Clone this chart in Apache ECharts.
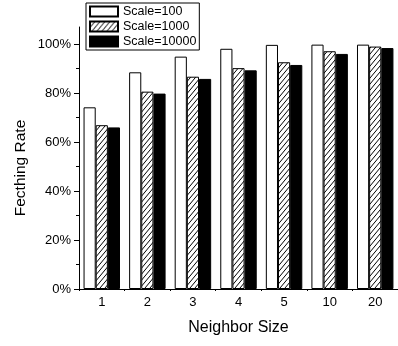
<!DOCTYPE html>
<html><head><meta charset="utf-8">
<script src="https://cdn.jsdelivr.net/npm/echarts@6/dist/echarts.min.js"></script>
<style>html,body{margin:0;padding:0;background:#fff}#c{width:398px;height:346px}</style>
</head><body><div id="c"></div>
<script>
const categories = ['1', '2', '3', '4', '5', '10', '20'];
const scale100 = [74.2, 88.5, 94.9, 98.1, 99.7, 99.8, 99.8];
const scale1000 = [66.9, 80.6, 86.7, 90.2, 92.6, 97.1, 99.0];
const scale10000 = [66.0, 79.8, 85.8, 89.3, 91.5, 96.0, 98.4];
const seriesNames = ['Scale=100', 'Scale=1000', 'Scale=10000'];
const majorTicks = [0, 20, 40, 60, 80, 100];
const minorTicks = [10, 30, 50, 70, 90];
const yTitle = 'Fecthing Rate';
const xTitle = 'Neighbor Size';

function hatch() {
  const w = 5, h = 6;
  const c = document.createElement('canvas');
  c.width = w; c.height = h;
  const g = c.getContext('2d');
  g.fillStyle = '#fff'; g.fillRect(0, 0, w, h);
  g.strokeStyle = '#000'; g.lineWidth = 1;
  g.beginPath();
  for (let k = -1; k <= 1; k++) { g.moveTo(k * w, h); g.lineTo((k + 1) * w, 0); }
  g.stroke();
  return c;
}
const FONT = 'Liberation Sans, Arial, sans-serif';
const chart = echarts.init(document.getElementById('c'), null, {renderer: 'canvas'});
const barBase = {type: 'bar', barGap: '0%', barCategoryGap: '20%', xAxisIndex: 0, yAxisIndex: 0};
chart.setOption({
  animation: false,
  textStyle: {fontFamily: FONT, color: '#000'},
  grid: {left: 79, top: 27, width: 327, bottom: 57, containLabel: false},
  legend: {
    orient: 'vertical', left: 86, top: 3,
    itemWidth: 28, itemHeight: 10, itemGap: 2,
    padding: [2, 3, 2, 3],
    borderColor: '#000', borderWidth: 1,
    icon: 'rect',
    textStyle: {fontSize: 12.5, color: '#000', fontFamily: FONT},
    data: seriesNames
  },
  graphic: [{
    type: 'text', x: 21, y: 168, rotation: Math.PI / 2,
    style: {text: yTitle, fontSize: 15.5, fontFamily: FONT, fill: '#000', align: 'center', verticalAlign: 'middle'}
  }],
  xAxis: [{
    type: 'category', data: categories, position: 'bottom',
    axisLine: {lineStyle: {color: '#000', width: 1}},
    axisTick: {alignWithLabel: true, length: 4, lineStyle: {color: '#000'}},
    axisLabel: {fontSize: 13, color: '#000', margin: 7, fontFamily: FONT},
    name: xTitle, nameLocation: 'middle', nameGap: 31,
    nameTextStyle: {fontSize: 16, color: '#000', fontFamily: FONT}
  }, {
    type: 'category', data: categories, position: 'bottom',
    axisLine: {show: false},
    axisTick: {show: true, length: 2, lineStyle: {color: '#000'}},
    axisLabel: {show: false}
  }],
  yAxis: [{
    type: 'value', min: 0, max: 107,
    axisLine: {show: true, lineStyle: {color: '#000', width: 1}},
    axisTick: {show: true, length: 5, customValues: majorTicks, lineStyle: {color: '#000'}},
    axisLabel: {fontSize: 13, color: '#000', margin: 8, customValues: majorTicks, formatter: v => v + '%', fontFamily: FONT},
    splitLine: {show: false}
  }, {
    type: 'value', min: 0, max: 107, position: 'left',
    axisLine: {show: false},
    axisTick: {show: true, length: 3, customValues: minorTicks, lineStyle: {color: '#000'}},
    axisLabel: {show: false},
    splitLine: {show: false}
  }],
  series: [
    Object.assign({}, barBase, {name: seriesNames[0], data: scale100,
      itemStyle: {color: '#fff', borderColor: '#000', borderWidth: 1}}),
    Object.assign({}, barBase, {name: seriesNames[1], data: scale1000,
      itemStyle: {color: {image: hatch(), repeat: 'repeat'}, borderColor: '#000', borderWidth: 1}}),
    Object.assign({}, barBase, {name: seriesNames[2], data: scale10000,
      itemStyle: {color: '#000', borderColor: '#000', borderWidth: 1}})
  ]
});
</script></body></html>
